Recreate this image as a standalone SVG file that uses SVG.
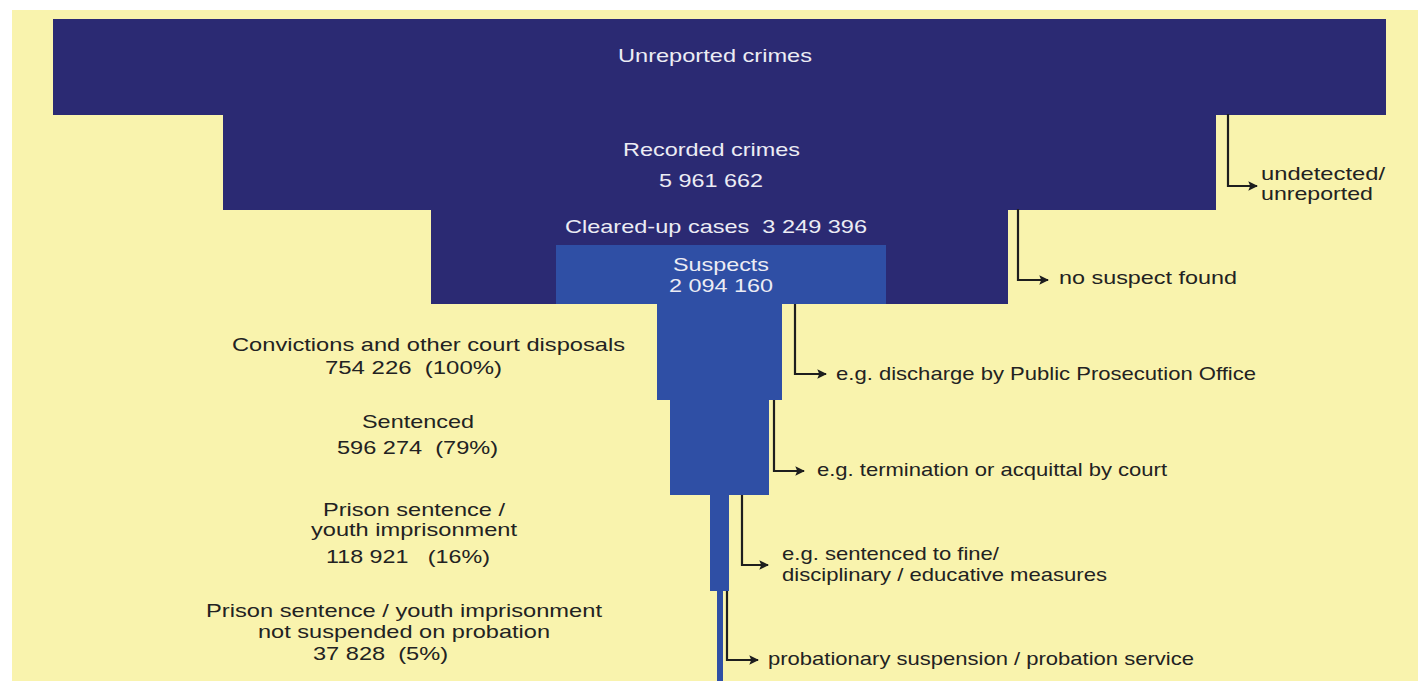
<svg xmlns="http://www.w3.org/2000/svg" width="1418" height="681" viewBox="0 0 1418 681">
<style>
.navy{fill:#2B2A73}
.blue{fill:#2F4FA5}
.wt{fill:#ECECF4;font-family:"Liberation Sans",Arial,sans-serif;font-size:19px}
.dk{fill:#222222;font-family:"Liberation Sans",Arial,sans-serif;font-size:19px}
.con{fill:none;stroke:#1E1E1E;stroke-width:2.2}
</style>
<defs>
<marker id="ah" viewBox="0 0 10 10" refX="9" refY="5" markerWidth="5" markerHeight="4.4" markerUnits="strokeWidth" orient="auto">
<path d="M0,0 L10,5 L0,10 L2,5 Z" fill="#1E1E1E"/>
</marker>
</defs>
<rect x="0" y="0" width="1418" height="681" fill="#FFFFFF"/>
<rect x="12" y="10" width="1406" height="671" fill="#F9F3AD"/>

<g id="unreported">
<rect class="navy" x="53" y="19" width="1333" height="96"/>
<text class="wt" x="618" y="62" textLength="194" lengthAdjust="spacingAndGlyphs">Unreported crimes</text>
</g>
<g id="recorded">
<rect class="navy" x="223" y="114" width="993" height="96"/>
<text class="wt" x="623" y="156" textLength="177" lengthAdjust="spacingAndGlyphs">Recorded crimes</text>
<text class="wt" x="659" y="187" textLength="104" lengthAdjust="spacingAndGlyphs">5 961 662</text>
</g>
<g id="cleared">
<rect class="navy" x="431" y="209" width="577" height="95"/>
<text class="wt" x="565" y="233" textLength="302" lengthAdjust="spacingAndGlyphs" xml:space="preserve">Cleared-up cases  3 249 396</text>
</g>
<g id="suspects">
<rect class="blue" x="556" y="245" width="330" height="59"/>
<text class="wt" x="673" y="271" textLength="96" lengthAdjust="spacingAndGlyphs">Suspects</text>
<text class="wt" x="669" y="292" textLength="104" lengthAdjust="spacingAndGlyphs">2 094 160</text>
</g>
<g id="convictions">
<rect class="blue" x="657" y="303" width="125" height="97"/>
<text class="dk" x="232" y="351" textLength="393" lengthAdjust="spacingAndGlyphs">Convictions and other court disposals</text>
<text class="dk" x="325" y="374" textLength="177" lengthAdjust="spacingAndGlyphs" xml:space="preserve">754 226  (100%)</text>
</g>
<g id="sentenced">
<rect class="blue" x="670" y="399" width="99" height="96"/>
<text class="dk" x="362" y="428" textLength="112" lengthAdjust="spacingAndGlyphs">Sentenced</text>
<text class="dk" x="337" y="454" textLength="161" lengthAdjust="spacingAndGlyphs" xml:space="preserve">596 274  (79%)</text>
</g>
<g id="prison">
<rect class="blue" x="710" y="494" width="19" height="97"/>
<text class="dk" x="323" y="516" textLength="182" lengthAdjust="spacingAndGlyphs">Prison sentence /</text>
<text class="dk" x="311" y="536" textLength="206" lengthAdjust="spacingAndGlyphs">youth imprisonment</text>
<text class="dk" x="326" y="563" textLength="164" lengthAdjust="spacingAndGlyphs" xml:space="preserve">118 921   (16%)</text>
</g>
<g id="not-suspended">
<rect class="blue" x="717" y="590" width="6" height="91"/>
<text class="dk" x="206" y="617" textLength="396" lengthAdjust="spacingAndGlyphs">Prison sentence / youth imprisonment</text>
<text class="dk" x="258" y="638" textLength="292" lengthAdjust="spacingAndGlyphs">not suspended on probation</text>
<text class="dk" x="313" y="660" textLength="135" lengthAdjust="spacingAndGlyphs" xml:space="preserve">37 828  (5%)</text>
</g>

<g id="connectors">
<path class="con" d="M1228,114 V186 H1257" marker-end="url(#ah)"/>
<path class="con" d="M1018,209 V280 H1048" marker-end="url(#ah)"/>
<path class="con" d="M795,304 V374 H826" marker-end="url(#ah)"/>
<path class="con" d="M774,400 V471 H804" marker-end="url(#ah)"/>
<path class="con" d="M742,495 V565 H768" marker-end="url(#ah)"/>
<path class="con" d="M727,591 V660 H758" marker-end="url(#ah)"/>
</g>

<g id="out-undetected">
<text class="dk" x="1261" y="180" textLength="124" lengthAdjust="spacingAndGlyphs">undetected/</text>
<text class="dk" x="1261" y="200" textLength="112" lengthAdjust="spacingAndGlyphs">unreported</text>
</g>
<g id="out-nosuspect">
<text class="dk" x="1059" y="284" textLength="178" lengthAdjust="spacingAndGlyphs">no suspect found</text>
</g>
<g id="out-discharge">
<text class="dk" x="836" y="380" textLength="420" lengthAdjust="spacingAndGlyphs">e.g. discharge by Public Prosecution Office</text>
</g>
<g id="out-termination">
<text class="dk" x="817" y="476" textLength="350" lengthAdjust="spacingAndGlyphs">e.g. termination or acquittal by court</text>
</g>
<g id="out-fine">
<text class="dk" x="782" y="560" textLength="217" lengthAdjust="spacingAndGlyphs">e.g. sentenced to fine/</text>
<text class="dk" x="782" y="581" textLength="325" lengthAdjust="spacingAndGlyphs">disciplinary / educative measures</text>
</g>
<g id="out-probation">
<text class="dk" x="768" y="665" textLength="426" lengthAdjust="spacingAndGlyphs">probationary suspension / probation service</text>
</g>
</svg>
